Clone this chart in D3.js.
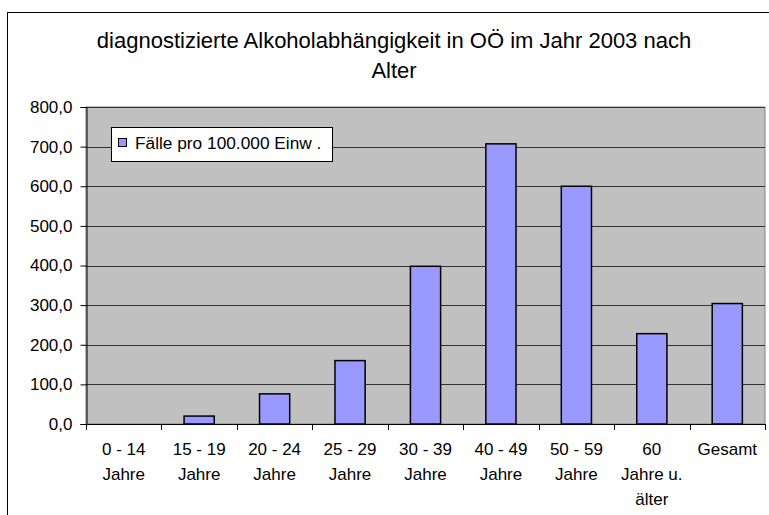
<!DOCTYPE html>
<html>
<head>
<meta charset="utf-8">
<script src="https://cdn.jsdelivr.net/npm/d3@7"></script>
<style>
  body { margin: 0; background: #fff; }
  svg { display: block; font-family: Arial, "Liberation Sans", sans-serif; }
</style>
</head>
<body>
<div id="chart"></div>
<script>
// data
var categories = ["0 - 14 Jahre", "15 - 19 Jahre", "20 - 24 Jahre", "25 - 29 Jahre",
  "30 - 39 Jahre", "40 - 49 Jahre", "50 - 59 Jahre", "60 Jahre u. älter", "Gesamt"];
var labelLines = [["0 - 14", "Jahre"], ["15 - 19", "Jahre"], ["20 - 24", "Jahre"],
  ["25 - 29", "Jahre"], ["30 - 39", "Jahre"], ["40 - 49", "Jahre"], ["50 - 59", "Jahre"],
  ["60", "Jahre u.", "älter"], ["Gesamt"]];
var faelle = [0, 20, 76, 160, 398, 707, 600, 228, 304];
var yTicks = [0, 100, 200, 300, 400, 500, 600, 700, 800];
var seriesName = "Fälle pro 100.000 Einw .";
var titleLines = ["diagnostizierte Alkoholabhängigkeit in OÖ im Jahr 2003 nach", "Alter"];

var svgWidth = 769;
var svgHeight = 515;

var plot = { left: 86, top: 107, right: 765, bottom: 424 };

var svg = d3.select("#chart").append("svg")
  .attr("width", svgWidth)
  .attr("height", svgHeight);

// outer chart frame (runs off the right/bottom like the original)
svg.append("rect")
  .attr("x", 7.5).attr("y", 12.5)
  .attr("width", 800).attr("height", 540)
  .attr("fill", "#fff")
  .attr("stroke", "#000")
  .attr("stroke-width", 1);

// title
svg.append("g").selectAll("text")
  .data(titleLines)
  .enter()
  .append("text")
  .attr("x", 394)
  .attr("y", (d, i) => 48 + i * 30)
  .attr("text-anchor", "middle")
  .attr("font-size", "22px")
  .attr("fill", "#000")
  .text(d => d);

var x = d3.scaleBand()
  .domain(categories)
  .range([plot.left, plot.right])
  .paddingInner(0.6)
  .paddingOuter(0.3);

var y = d3.scaleLinear()
  .domain([0, 800])
  .range([plot.bottom, plot.top]);

// plot background
svg.append("rect")
  .attr("x", plot.left).attr("y", plot.top)
  .attr("width", plot.right - plot.left)
  .attr("height", plot.bottom - plot.top)
  .attr("fill", "#c0c0c0")
  .attr("stroke", "#808080")
  .attr("stroke-width", 1);

// gridlines
svg.append("g").selectAll("line")
  .data(yTicks.filter(d => d > 0))
  .enter()
  .append("line")
  .attr("x1", plot.left).attr("x2", plot.right)
  .attr("y1", d => Math.round(y(d)) + 0.5)
  .attr("y2", d => Math.round(y(d)) + 0.5)
  .attr("stroke", "#333")
  .attr("stroke-width", 1);

// bars
svg.append("g").selectAll("rect")
  .data(faelle.map((v, i) => ({ cat: categories[i], value: v })).filter(d => d.value > 0))
  .enter()
  .append("rect")
  .attr("x", d => x(d.cat))
  .attr("y", d => y(d.value))
  .attr("width", x.bandwidth())
  .attr("height", d => y(0) - y(d.value))
  .attr("fill", "#9999ff")
  .attr("stroke", "#000")
  .attr("stroke-width", 1.5);

// y axis
var deLocale = d3.formatLocale({ decimal: ",", thousands: ".", grouping: [3], currency: ["", " €"] });
var yAxis = d3.axisLeft(y)
  .tickValues(yTicks)
  .tickSize(6)
  .tickPadding(8)
  .tickFormat(deLocale.format(".1f"));

var yG = svg.append("g")
  .attr("transform", `translate(${plot.left + 0.5}, 0)`)
  .call(yAxis);
yG.select(".domain").attr("stroke", "#000");
yG.selectAll(".tick line").attr("stroke", "#000");
yG.selectAll(".tick text")
  .attr("font-size", "17px")
  .attr("font-family", "Arial, 'Liberation Sans', sans-serif")
  .attr("fill", "#000");

// x axis: line, boundary ticks, multi-line labels
var xG = svg.append("g");
xG.append("line")
  .attr("x1", plot.left).attr("x2", plot.right + 0.5)
  .attr("y1", plot.bottom + 0.5).attr("y2", plot.bottom + 0.5)
  .attr("stroke", "#000");

var step = x.step();
var bounds = d3.range(categories.length + 1).map(i => x(categories[0]) - step * x.paddingOuter() + i * step);
xG.selectAll(".xt")
  .data(bounds)
  .enter()
  .append("line")
  .attr("class", "xt")
  .attr("x1", d => Math.round(d) + 0.5).attr("x2", d => Math.round(d) + 0.5)
  .attr("y1", plot.bottom).attr("y2", plot.bottom + 6)
  .attr("stroke", "#000");

var labels = xG.selectAll(".xl")
  .data(categories)
  .enter()
  .append("text")
  .attr("class", "xl")
  .attr("text-anchor", "middle")
  .attr("font-size", "17px")
  .attr("fill", "#000");

labels.each(function(d, i) {
  var t = d3.select(this);
  labelLines[i].forEach(function(line, j) {
    t.append("tspan")
      .attr("x", x(d) + x.bandwidth() / 2)
      .attr("y", 455 + j * 25)
      .text(line);
  });
});

// legend
var legend = svg.append("g");
legend.append("rect")
  .attr("x", 111.5).attr("y", 127.5)
  .attr("width", 221).attr("height", 34)
  .attr("fill", "#fff")
  .attr("stroke", "#000");
legend.append("rect")
  .attr("x", 118.5).attr("y", 138.5)
  .attr("width", 8).attr("height", 8)
  .attr("fill", "#9999ff")
  .attr("stroke", "#000");
legend.append("text")
  .attr("x", 135).attr("y", 148.5)
  .attr("font-size", "17.3px")
  .attr("fill", "#000")
  .text(seriesName);
</script>
</body>
</html>
